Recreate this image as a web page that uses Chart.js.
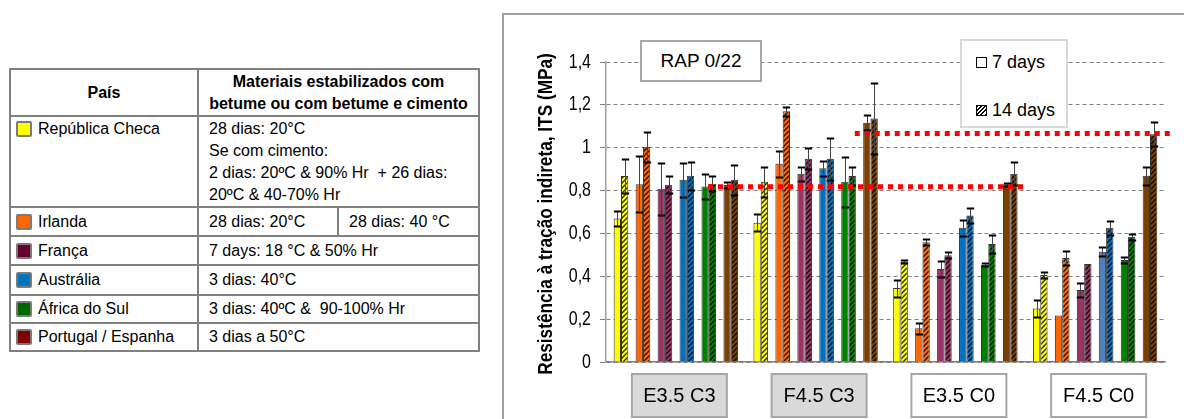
<!DOCTYPE html>
<html>
<head>
<meta charset="utf-8">
<script src="https://cdn.jsdelivr.net/npm/chart.js@4/dist/chart.umd.min.js"></script>
<style>
  body { margin:0; width:1184px; height:419px; position:relative; overflow:hidden; background:#fff; font-family:"Liberation Sans", Arial, sans-serif; }
  #tbl { position:absolute; left:9px; top:68px; border-collapse:collapse; table-layout:fixed; width:470px; font-size:16px; color:#000; }
  #tbl td, #tbl th { border:2px solid #808080; padding:0; }
  #tbl th { font-weight:bold; text-align:center; line-height:22px; font-size:16px; }
  #tbl td { vertical-align:middle; padding-left:10px; line-height:22px; }
  #tbl td.c1 { padding-left:5px; }
  #tbl td.top { vertical-align:top; }
  .sw { display:inline-block; width:16px; height:16px; box-sizing:border-box; border:2px solid #7a7a7a; border-radius:2px; margin-right:6px; vertical-align:-3px; }
  #panel { position:absolute; left:502px; top:13px; width:700px; height:420px; border-left:2px solid #a0a0a0; border-top:2px solid #a0a0a0; }
  #chartBox { position:absolute; left:504px; top:16px; width:680px; height:403px; }
  #rap { position:absolute; left:640px; top:40px; width:122px; height:42px; box-sizing:border-box; border:2px solid #a6a6a6; background:#fff; font-size:19px; line-height:38px; text-align:center; }
  #legend { position:absolute; left:960px; top:39px; width:108px; height:89px; box-sizing:border-box; border:2px solid #d9d9d9; background:#fff; font-size:18px; }
  #legend .item { position:absolute; left:14px; height:20px; line-height:20px; display:flex; align-items:center; white-space:nowrap; }
  #legend .sq { display:inline-block; width:11px; height:11px; box-sizing:border-box; border:1.5px solid #000; background:#fff; margin-right:5px; }
  #legend .sq.hatch { background:repeating-linear-gradient(-45deg, #000 0 1.4px, #fff 1.4px 3px); }
</style>
</head>
<body>
<table id="tbl">
  <colgroup><col style="width:188px"><col style="width:140px"><col style="width:141px"></colgroup>
  <tr style="height:47px"><th>País</th><th colspan="2">Materiais estabilizados com<br>betume ou com betume e cimento</th></tr>
  <tr style="height:90px"><td class="c1 top" style="padding-top:1px"><span class="sw" style="background:#FFFF00"></span>República Checa</td>
    <td class="top" colspan="2" style="padding-top:1px">28 dias: 20°C<br>Se com cimento:<br>2 dias: 20ºC &amp; 90% Hr&nbsp; + 26 dias:<br>20ºC &amp; 40-70% Hr</td></tr>
  <tr style="height:29px"><td class="c1"><span class="sw" style="background:#FF6600"></span>Irlanda</td><td>28 dias: 20°C</td><td>28 dias: 40 °C</td></tr>
  <tr style="height:29px"><td class="c1"><span class="sw" style="background:#660033"></span>França</td><td colspan="2">7 days: 18 °C &amp; 50% Hr</td></tr>
  <tr style="height:30px"><td class="c1"><span class="sw" style="background:#0070C0"></span>Austrália</td><td colspan="2">3 dias: 40°C</td></tr>
  <tr style="height:28px"><td class="c1"><span class="sw" style="background:#006600"></span>África do Sul</td><td colspan="2">3 dias: 40ºC &amp;&nbsp; 90-100% Hr</td></tr>
  <tr style="height:28px"><td class="c1"><span class="sw" style="background:#800000"></span>Portugal / Espanha</td><td colspan="2">3 dias a 50°C</td></tr>
</table>

<div id="panel"></div>
<div id="chartBox"><canvas id="its-chart"></canvas></div>
<div id="rap">RAP 0/22</div>
<div id="legend">
  <div class="item" style="top:11px"><span class="sq"></span>7 days</div>
  <div class="item" style="top:59px"><span class="sq hatch"></span>14 days</div>
</div>

<script>
var groups = ['E3.5 C3', 'F4.5 C3', 'E3.5 C0', 'F4.5 C0'];
var countries = ['República Checa', 'Irlanda', 'França', 'Austrália', 'África do Sul', 'Portugal / Espanha'];
var yTicks = ['0', '0,2', '0,4', '0,6', '0,8', '1', '1,2', '1,4'];
var yTitle = 'Resistência à tração indireta, ITS (MPa)';

// ITS (MPa) after 7 days, one row per country, one value per mix
var its7 = [
  [0.67, 0.65, 0.345, 0.25],
  [0.83, 0.925, 0.158, 0.217],
  [0.808, 0.878, 0.434, 0.336],
  [0.85, 0.904, 0.626, 0.515],
  [0.819, 0.841, 0.454, 0.476],
  [0.826, 1.117, 0.829, 0.869]
];
// ITS (MPa) after 14 days
var its14 = [
  [0.868, 0.841, 0.468, 0.406],
  [1.005, 1.17, 0.559, 0.485],
  [0.827, 0.949, 0.498, 0.457],
  [0.869, 0.949, 0.684, 0.626],
  [0.832, 0.868, 0.551, 0.584],
  [0.85, 1.136, 0.879, 1.063]
];
// standard deviations
var err7 = [
  [0.035, 0.04, 0.04, 0.04],
  [0.13, 0.06, 0.025, 0],
  [0.12, 0.032, 0.037, 0.032],
  [0.08, 0.034, 0.037, 0.02],
  [0.06, 0.116, 0.008, 0.012],
  [0.016, 0.036, 0.008, 0.041]
];
var err14 = [
  [0.08, 0.07, 0.008, 0.012],
  [0.07, 0.02, 0.014, 0.033],
  [0.04, 0.05, 0.014, 0],
  [0.065, 0.098, 0.034, 0.031],
  [0.036, 0.042, 0.042, 0.013],
  [0.071, 0.164, 0.054, 0.056]
];
// red dotted reference levels (MPa) and their span in mix units
var refLevel = [0.818, 1.066];
var refFrom = [0.23, 1.28];
var refTo = [2.51, 3.56];

var barColors = ['#FFFF00', '#FF6600', '#993366', '#0070C0', '#008000', '#7B3F00'];
var groupFill = ['#d9d9d9', '#d9d9d9', '#ffffff', '#ffffff'];
var sans = '"Liberation Sans", Arial, sans-serif';

function hatch(color){
  var c = document.createElement('canvas');
  c.width = 5; c.height = 5;
  var x = c.getContext('2d');
  x.fillStyle = color;
  x.fillRect(0, 0, 5, 5);
  x.strokeStyle = 'rgba(0,0,0,0.85)';
  x.lineWidth = 1.3;
  x.beginPath();
  x.moveTo(-1, 6); x.lineTo(6, -1);
  x.moveTo(-1, 1); x.lineTo(1, -1);
  x.moveTo(4, 6); x.lineTo(6, 4);
  x.stroke();
  return x.createPattern(c, 'repeat');
}

var datasets = [];
for (var i = 0; i < countries.length; i++) {
  var fill7 = groups.map(function(g, j){ return (i === 3 && j === 3) ? '#4F81BD' : barColors[i]; });
  datasets.push({ label: countries[i] + ' 7 days', data: its7[i], errors: err7[i],
    backgroundColor: fill7, borderColor: '#333', borderWidth: 1 });
  datasets.push({ label: countries[i] + ' 14 days', data: its14[i], errors: err14[i],
    backgroundColor: hatch(barColors[i]), borderColor: '#333', borderWidth: 1 });
  // empty slot between countries
  if (i < countries.length - 1) {
    datasets.push({ label: '', data: groups.map(function(){ return null; }) });
  }
}

var errorBars = {
  id: 'errorBars',
  afterDatasetsDraw: function(chart){
    var ctx = chart.ctx, y = chart.scales.y;
    chart.data.datasets.forEach(function(ds, di){
      if (!ds.errors) return;
      chart.getDatasetMeta(di).data.forEach(function(bar, k){
        var e = ds.errors[k];
        if (!e) return;
        var v = ds.data[k];
        var top = Math.round(y.getPixelForValue(v + e)) + 0.5;
        var bot = Math.round(y.getPixelForValue(v - e)) + 0.5;
        var cx = Math.round(bar.x) + 0.5, half = bar.width / 2;
        ctx.save();
        ctx.strokeStyle = '#444';
        ctx.lineWidth = 1;
        ctx.beginPath();
        ctx.moveTo(cx, top); ctx.lineTo(cx, bot);
        ctx.stroke();
        ctx.strokeStyle = '#000';
        ctx.lineWidth = 2;
        ctx.beginPath();
        ctx.moveTo(cx - half, top); ctx.lineTo(cx + half, top);
        ctx.moveTo(cx - half, bot); ctx.lineTo(cx + half, bot);
        ctx.stroke();
        ctx.restore();
      });
    });
    // reference levels
    var x = chart.scales.x;
    ctx.save();
    ctx.strokeStyle = '#FF0000';
    ctx.lineWidth = 5;
    ctx.setLineDash([5, 5]);
    for (var r = 0; r < refLevel.length; r++) {
      var py = y.getPixelForValue(refLevel[r]);
      ctx.beginPath();
      ctx.moveTo(x.getPixelForValue(refFrom[r]), py);
      ctx.lineTo(x.getPixelForValue(refTo[r]), py);
      ctx.stroke();
    }
    ctx.restore();
  }
};

// condensed y labels and title, plus the mix boxes under the axis
var axisText = {
  id: 'axisText',
  afterDraw: function(chart){
    var ctx = chart.ctx, x = chart.scales.x, y = chart.scales.y, area = chart.chartArea;
    ctx.save();
    ctx.fillStyle = '#000';
    ctx.font = '20px ' + sans;
    ctx.textAlign = 'right';
    ctx.textBaseline = 'middle';
    y.ticks.forEach(function(t){
      ctx.save();
      ctx.translate(area.left - 15, y.getPixelForValue(t.value));
      ctx.scale(0.8, 1);
      ctx.fillText(yTicks[Math.round(t.value / 0.2)], 0, 0);
      ctx.restore();
    });
    ctx.translate(area.left - 60, (area.top + area.bottom) / 2 + 2);
    ctx.rotate(-Math.PI / 2);
    ctx.scale(0.82, 1);
    ctx.font = 'bold 21px ' + sans;
    ctx.textAlign = 'center';
    ctx.fillText(yTitle, 0, 0);
    ctx.restore();

    groups.forEach(function(g, i){
      var cx = x.getPixelForValue(i) + 3.5;
      var top = area.bottom + 12;
      ctx.save();
      ctx.fillStyle = groupFill[i];
      ctx.fillRect(cx - 47.5, top, 95, 43);
      ctx.strokeStyle = '#a6a6a6';
      ctx.lineWidth = 2;
      ctx.strokeRect(cx - 47.5, top, 95, 43);
      ctx.fillStyle = '#000';
      ctx.font = '20px ' + sans;
      ctx.textAlign = 'center';
      ctx.textBaseline = 'middle';
      ctx.fillText(g, cx, top + 22);
      ctx.restore();
    });
  }
};

var ctx = document.getElementById('its-chart').getContext('2d');
var chart = new Chart(ctx, {
  type: 'bar',
  data: { labels: groups, datasets: datasets },
  plugins: [errorBars, axisText],
  options: {
    responsive: true,
    maintainAspectRatio: false,
    animation: false,
    events: [],
    categoryPercentage: 0.89,
    barPercentage: 1.0,
    layout: { padding: { top: 46, right: 19, left: 0, bottom: 0 } },
    plugins: { legend: { display: false }, tooltip: { enabled: false } },
    scales: {
      x: {
        ticks: { display: false },
        grid: { display: false },
        border: { color: '#808080', width: 1.5 },
        afterFit: function(s){ s.height = 57; }
      },
      y: {
        min: 0,
        max: 1.4,
        ticks: { stepSize: 0.2, display: false },
        grid: { color: '#808080', lineWidth: 1, tickLength: 6 },
        border: { color: '#a0a0a0', width: 1.5, dash: [4, 3] },
        afterFit: function(s){ s.width = 102; }
      }
    }
  }
});
</script>
</body>
</html>
